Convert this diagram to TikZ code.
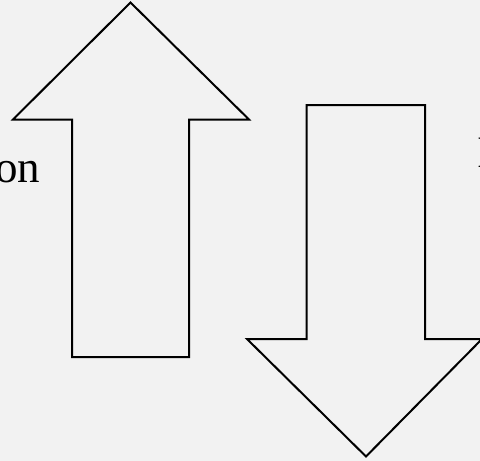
\documentclass[tikz,border=0pt]{standalone}
\usepackage{fontspec}
\setmainfont{Liberation Serif}
\definecolor{bg}{HTML}{F2F2F2}
\begin{document}
\begin{tikzpicture}[x=1pt,y=-1pt,
  bigarrow/.style={draw=black,line width=2pt,fill=bg,line join=miter},
  lbl/.style={inner sep=0pt,font=\fontsize{45}{50}\selectfont}]
\fill[bg] (0,0) rectangle (480,461);
\useasboundingbox (0,0) rectangle (480,461);
% up arrow
\draw[bigarrow] (130.5,2.5) -- (249,119.5) -- (189,119.5) -- (189,357) -- (72,357) -- (72,119.5) -- (13,119.5) -- cycle;
% down arrow
\draw[bigarrow] (306.5,105) -- (425,105) -- (425,339) -- (482,339) -- (366,456.5) -- (247,339) -- (306.5,339) -- cycle;
\node[lbl,anchor=base east] (left) at (40.5,182.5) {on};
\node[lbl,anchor=base west] (right) at (477,167.5) {I};
\end{tikzpicture}
\end{document}
